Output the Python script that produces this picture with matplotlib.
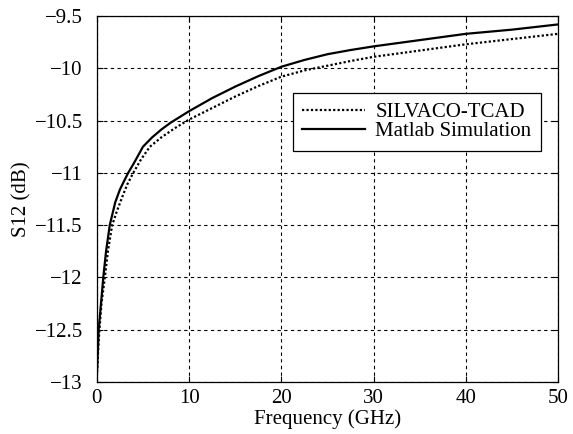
import matplotlib
matplotlib.use("Agg")
import matplotlib.pyplot as plt

# Insertion loss S12 versus frequency
freq_tcad = [0, 0.2, 0.5, 0.87, 1.2, 1.66, 2.2, 2.8, 3.3, 3.95, 4.8, 5.75, 7.0,
             8.5, 10, 12.5, 15, 17.5, 20, 22.5, 25, 27.5, 30, 35, 40, 45, 50]
s12_tcad = [-12.95, -12.6, -12.25, -12.0, -11.75, -11.5, -11.36, -11.22, -11.11,
            -11.0, -10.87, -10.75, -10.66, -10.57, -10.49, -10.38, -10.27, -10.17,
            -10.08, -10.02, -9.975, -9.93, -9.89, -9.83, -9.77, -9.72, -9.67]

freq_matlab = [0, 0.2, 0.7, 1.0, 1.4, 2.0, 2.5, 3.0, 3.4, 4.0, 4.5, 5.0, 6.0, 7.0,
               8.0, 10, 12.5, 15, 17.5, 20, 22.5, 25, 27.5, 30, 35, 40, 45, 50]
s12_matlab = [-12.95, -12.5, -12.0, -11.75, -11.5, -11.28, -11.16, -11.07, -11.0,
              -10.91, -10.83, -10.75, -10.66, -10.585, -10.52, -10.41, -10.285, -10.175,
              -10.075, -9.985, -9.92, -9.865, -9.825, -9.79, -9.73, -9.67, -9.63, -9.58]

x_ticks = [0, 10, 20, 30, 40, 50]
y_ticks = [-13, -12.5, -12, -11.5, -11, -10.5, -10, -9.5]
y_tick_labels = ["\u221213", "\u221212.5", "\u221212", "\u221211.5", "\u221211",
                 "\u221210.5", "\u221210", "\u22129.5"]

plt.rcParams["font.family"] = ["Liberation Serif", "DejaVu Serif"]

fig = plt.figure(figsize=(5.73, 4.34), dpi=100)
ax = fig.add_axes([0.169, 0.12, 0.805, 0.843])

ax.plot(freq_tcad, s12_tcad, color="black", linestyle=(0, (1, 1)), linewidth=1.6,
        label="SILVACO-TCAD")
ax.plot(freq_matlab, s12_matlab, color="black", linestyle="-", linewidth=1.6,
        label="Matlab Simulation")

ax.set_xlim(0, 50)
ax.set_ylim(-13, -9.5)
ax.set_xticks(x_ticks)
ax.set_yticks(y_ticks)
ax.set_yticklabels(y_tick_labels)
ax.tick_params(direction="in", length=4, width=0.8, labelsize=15, colors="black",
               top=True, right=True)
ax.tick_params(axis="y", pad=10)
ax.tick_params(axis="x", pad=5)
ax.grid(True, color="black", linestyle=(0, (3, 3)), linewidth=0.8)
for sp in ax.spines.values():
    sp.set_linewidth(0.9)
    sp.set_color("black")

ax.set_xlabel("Frequency (GHz)", fontsize=15, labelpad=1)
ax.set_ylabel("S12 (dB)", fontsize=15, labelpad=2)

leg = ax.legend(loc="upper left", bbox_to_anchor=(0.425, 0.79), fontsize=15,
                frameon=True, fancybox=False, framealpha=1, edgecolor="black",
                borderpad=0.45, handlelength=3.0, labelspacing=0.0,
                handletextpad=0.5, borderaxespad=0)
leg.get_frame().set_linewidth(0.9)

fig.savefig("out.png", dpi=100)
